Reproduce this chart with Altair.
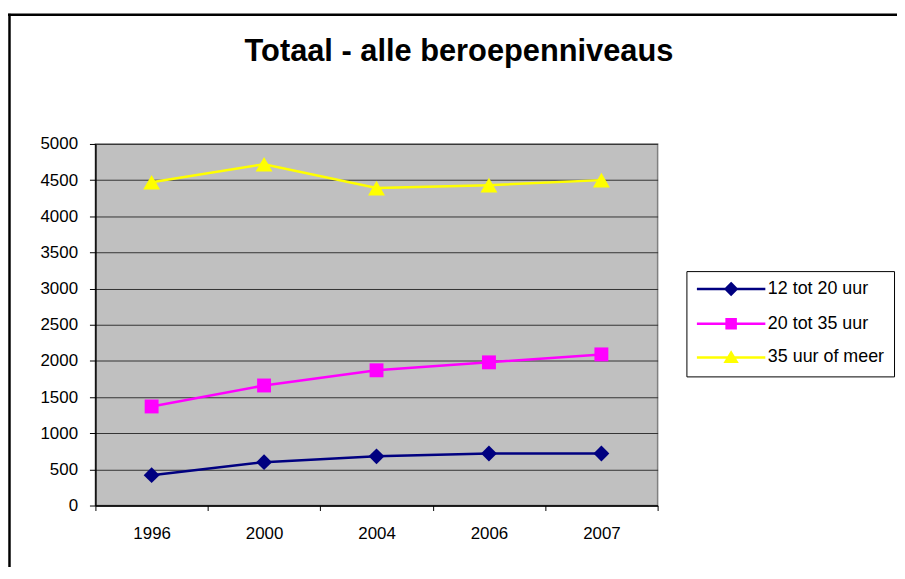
import altair as alt
import pandas as pd

years = ["1996", "2000", "2004", "2006", "2007"]
series = ["12 tot 20 uur", "20 tot 35 uur", "35 uur of meer"]
vals_12_20 = [420, 600, 680, 720, 720]
vals_20_35 = [1370, 1660, 1870, 1980, 2090]
vals_35_plus = [4470, 4720, 4390, 4430, 4500]
colors = ["#000080", "#FF00FF", "#FFFF00"]
marker_shapes = ["diamond", "square", "triangle-up"]
marker_sizes = [256, 196, 289]
# legend glyphs: a line segment with a marker in the middle (filled by nested outlines)
legend_paths = [
    "M-5.3,0L5.3,0"
    "M0,-0.85L0.85,0L0,0.85L-0.85,0Z"
    "M0,-0.55L0.55,0L0,0.55L-0.55,0Z"
    "M0,-0.25L0.25,0L0,0.25L-0.25,0Z",
    "M-5.3,0L5.3,0"
    "M-0.7,-0.7L0.7,-0.7L0.7,0.7L-0.7,0.7Z"
    "M-0.4,-0.4L0.4,-0.4L0.4,0.4L-0.4,0.4Z"
    "M-0.1,-0.1L0.1,-0.1L0.1,0.1L-0.1,0.1Z",
    "M-5.3,0L5.3,0"
    "M0,-0.75L0.85,0.65L-0.85,0.65Z"
    "M0,-0.38L0.51,0.46L-0.51,0.46Z"
    "M0,-0.05L0.21,0.3L-0.21,0.3Z",
]
title_text = "Totaal - alle beroepenniveaus"
y_ticks = list(range(0, 5001, 500))

rows = []
for name, vals in zip(series, [vals_12_20, vals_20_35, vals_35_plus]):
    for yr, v in zip(years, vals):
        rows.append({"jaar": yr, "waarde": v, "reeks": name})
df = pd.DataFrame(rows)

FONT = "Liberation Sans"

x_enc = alt.X(
    "jaar:O",
    sort=years,
    scale=alt.Scale(type="band", paddingInner=0, paddingOuter=0),
    axis=alt.Axis(
        title=None, labelAngle=0, tickBand="extent", grid=False,
        labelFont=FONT, labelFontSize=17, labelColor="black", labelPadding=15,
        tickSize=5, tickColor="black", domainColor="black", domainWidth=1.5,
    ),
)
y_enc = alt.Y(
    "waarde:Q",
    scale=alt.Scale(domain=[0, 5000], nice=False),
    axis=alt.Axis(
        title=None, values=y_ticks, format="d", grid=True, gridColor="#333333", gridWidth=1,
        labelFont=FONT, labelFontSize=17, labelColor="black", labelPadding=12,
        tickSize=6, tickColor="black", domainColor="black", domainWidth=1.5,
    ),
)

base = alt.Chart(df)

series_layers = []
for name, col, shp, sz in zip(series, colors, marker_shapes, marker_sizes):
    sub = base.transform_filter(alt.datum.reeks == name)
    series_layers.append(sub.mark_line(strokeWidth=2.5, color=col).encode(x=x_enc, y=y_enc))
    series_layers.append(
        sub.mark_point(filled=True, opacity=1, shape=shp, size=sz, color=col).encode(x=x_enc, y=y_enc)
    )

legend_layer = base.mark_point(filled=False, opacity=1, clip=True, strokeWidth=2.5).encode(
    x=x_enc,
    y=alt.value(-3000),
    color=alt.Color("reeks:N", scale=alt.Scale(domain=series, range=colors), title=None),
    shape=alt.Shape("reeks:N", scale=alt.Scale(domain=series, range=legend_paths), title=None),
)

frame_data = alt.Data(values=[{"k": 1}])
frame_left = alt.Chart(frame_data).mark_rule(color="black", strokeWidth=2.5).encode(
    x=alt.value(-86.5), y=alt.value(-131), y2=alt.value(700)
)
frame_top = alt.Chart(frame_data).mark_rule(color="black", strokeWidth=2.5).encode(
    x=alt.value(-88), x2=alt.value(1200), y=alt.value(-130)
)

chart = (
    alt.layer(*series_layers, legend_layer, frame_left, frame_top)
    .properties(
        width=566,
        height=364,
        autosize=alt.AutoSizeParams(type="none"),
        padding={"left": 88, "top": 135, "right": 241, "bottom": 60},
        title=alt.Title(
            title_text, font=FONT, fontSize=31, fontWeight="bold", color="black",
            anchor="middle", baseline="alphabetic", offset=-80, dx=83,
        ),
    )
    .configure_view(fill="#C0C0C0", stroke="#808080", strokeWidth=1.5)
    .configure_legend(
        orient="none", legendX=595, legendY=128, padding=9,
        strokeColor="black", fillColor="white", strokeWidth=1,
        labelFont=FONT, labelFontSize=18, labelColor="black",
        symbolSize=169, symbolStrokeWidth=2.5, symbolOffset=27, labelOffset=28,
        rowPadding=14, symbolOpacity=1, symbolFillColor="transparent",
    )
)

chart.save("out.html", embed_options={"renderer": "svg", "actions": False})
